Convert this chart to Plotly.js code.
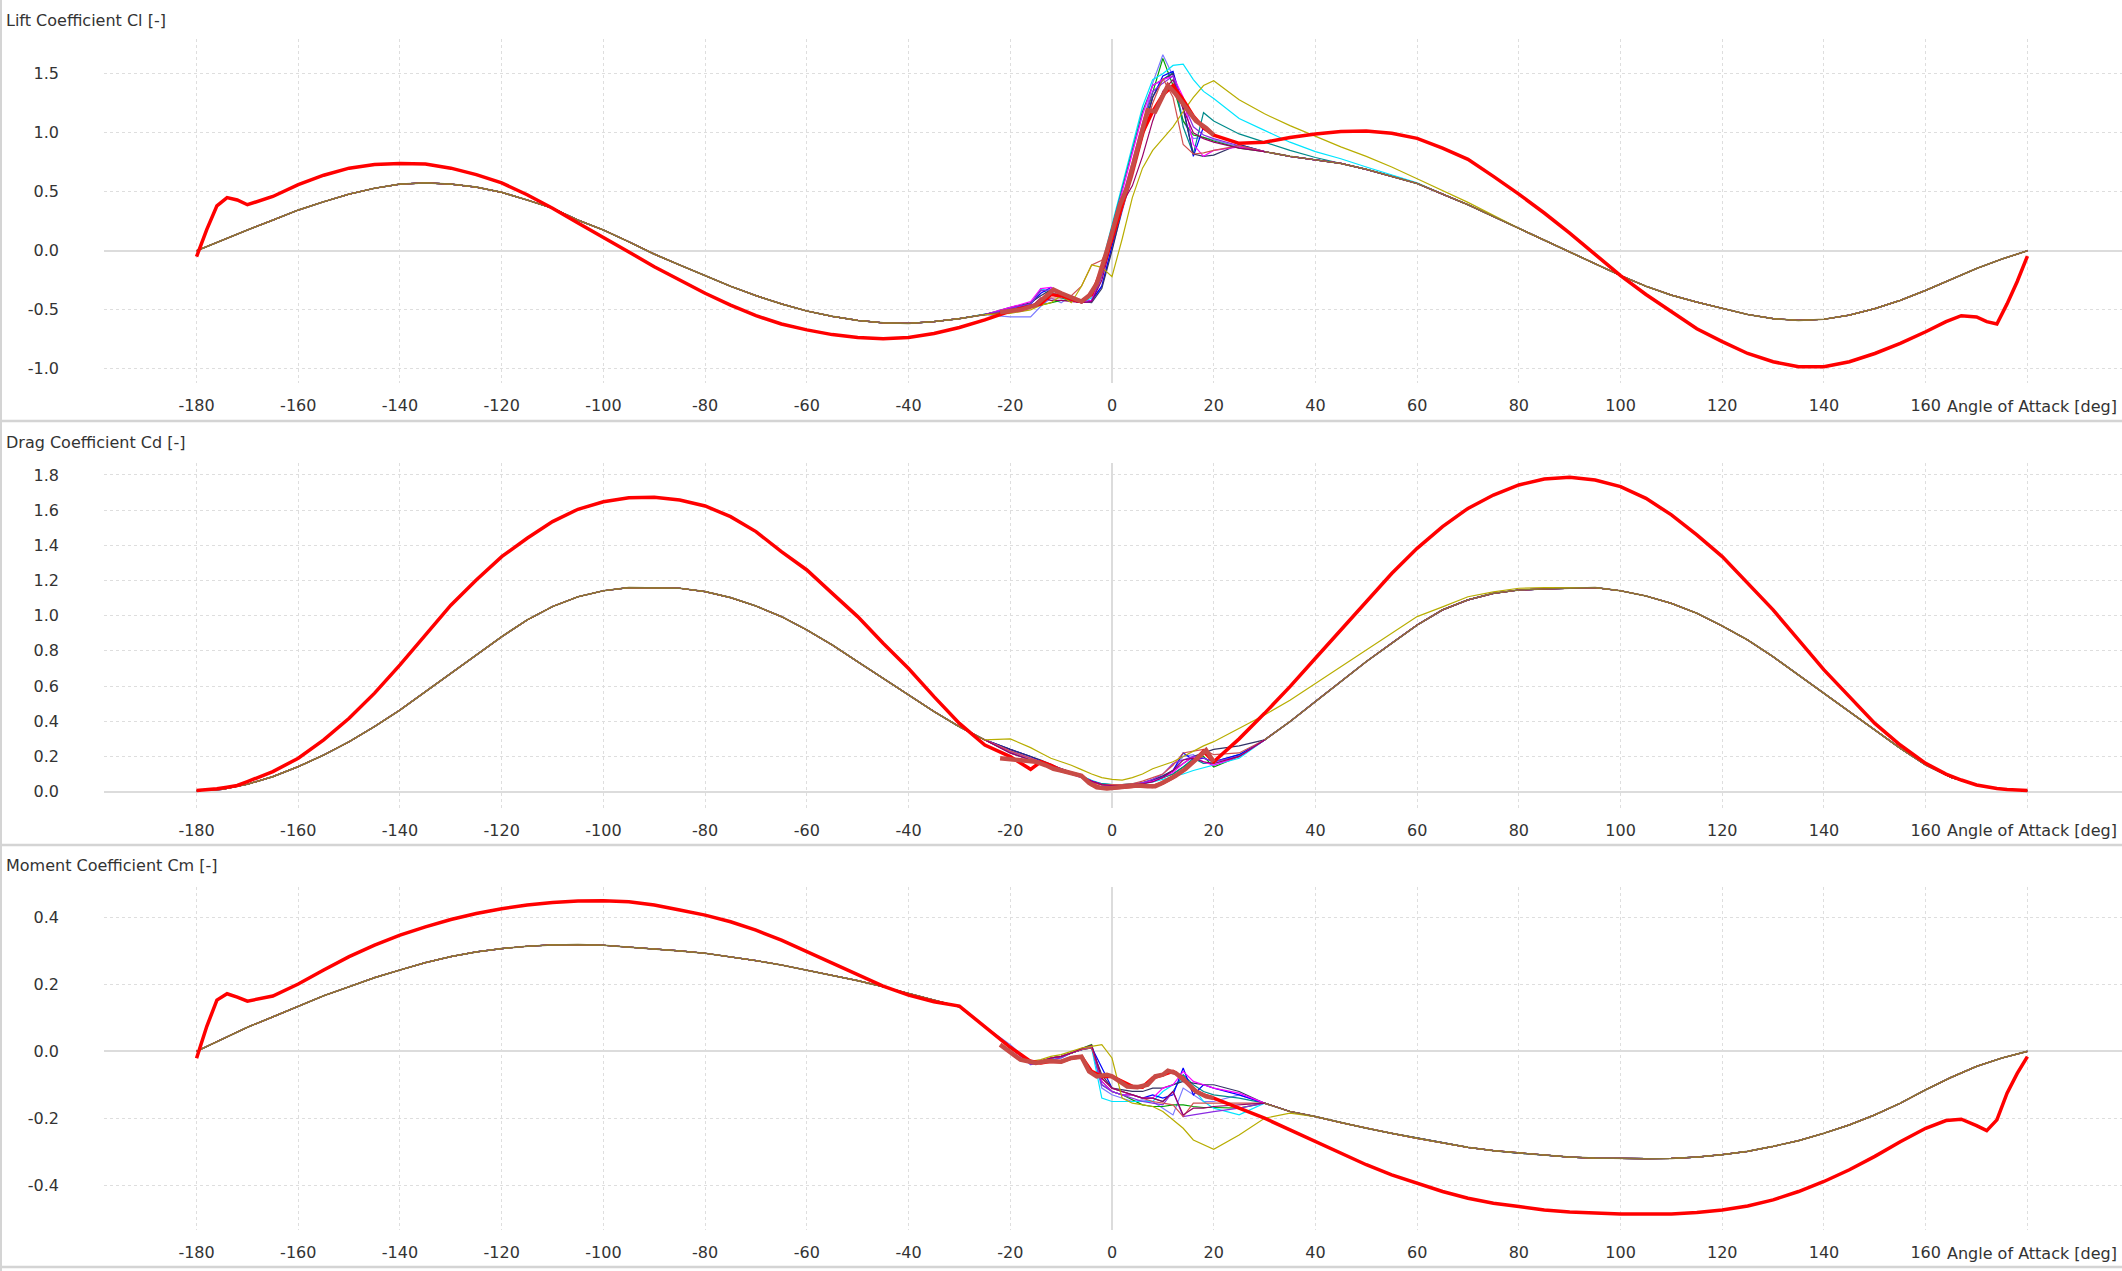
<!DOCTYPE html>
<html>
<head>
<meta charset="utf-8">
<script src="https://cdn.plot.ly/plotly-3.0.1.min.js"></script>
<style>
  html, body { margin: 0; padding: 0; background: #ffffff; }
  #polar-plot { width: 2122px; height: 1271px; }
</style>
</head>
<body>
<div id="polar-plot"></div>
<script>
// angle grids [deg]
const NEG_ANGLES = [-180, -175, -170, -165, -160, -155, -150, -145, -140, -135, -130, -125, -120, -115, -110, -105,
  -100, -95, -90, -85, -80, -75, -70, -65, -60, -55, -50, -45, -40, -35, -30, -25];
const MID_ANGLES = [-20, -16, -14, -12, -10, -8, -6, -4, -2, 0, 2, 4, 6, 8, 10, 12, 14, 16, 18, 20, 25];
const POS_ANGLES = [30, 35, 40, 45, 50, 55, 60, 65, 70, 75, 80, 85, 90, 95, 100, 105, 110, 115, 120, 125, 130,
  135, 140, 145, 150, 155, 160, 165, 170, 175, 180];
const RED_ANGLES = [-180, -178, -176, -174, -172, -170, -165, -160, -155, -150, -145, -140, -135, -130, -125, -120,
  -115, -110, -105, -100, -95, -90, -85, -80, -75, -70, -65, -60, -55, -50, -45, -40, -35, -30, -25, -20, -16, -14,
  -12, -10, -8, -6, -4, -2, 0, 2, 4, 6, 8, 10, 12, 14, 16, 18, 20, 25, 30, 35, 40, 45, 50, 55, 60, 65, 70, 75, 80,
  85, 90, 95, 100, 105, 110, 115, 120, 125, 130, 135, 140, 145, 150, 155, 160, 164, 167, 170, 172, 174, 176, 178, 180];
const THICK_ANGLES = [-22, -18, -15, -13, -11.5, -10, -8, -6, -4.5, -3, -1, 0, 1.5, 3, 5, 7, 8.5, 10, 11, 12.5, 14.5,
  16.5, 18.5, 20];

// shared outer part of the 360 deg polars
const clBaseNeg = [0.0, 0.09, 0.176, 0.26, 0.345, 0.415, 0.48, 0.53, 0.565, 0.575, 0.565, 0.54, 0.495, 0.43, 0.36,
  0.26, 0.176, 0.076, -0.028, -0.12, -0.21, -0.3, -0.38, -0.45, -0.51, -0.555, -0.59, -0.61, -0.615, -0.6, -0.575, -0.54];
const clBasePos = [0.84, 0.8, 0.77, 0.74, 0.69, 0.63, 0.57, 0.48, 0.39, 0.29, 0.19, 0.09, -0.01, -0.11, -0.21,
  -0.3, -0.376, -0.435, -0.49, -0.54, -0.575, -0.59, -0.58, -0.545, -0.49, -0.42, -0.335, -0.24, -0.15, -0.07, 0.0];
const cdBaseNeg = [0.006, 0.013, 0.042, 0.085, 0.142, 0.208, 0.284, 0.37, 0.464, 0.568, 0.673, 0.777, 0.881, 0.976,
  1.052, 1.108, 1.142, 1.16, 1.16, 1.156, 1.137, 1.103, 1.055, 0.995, 0.919, 0.834, 0.739, 0.644, 0.549, 0.455, 0.369, 0.294];
const cdBasePos = [0.294, 0.398, 0.512, 0.625, 0.739, 0.843, 0.947, 1.033, 1.09, 1.127, 1.146, 1.152, 1.156, 1.16,
  1.142, 1.112, 1.07, 1.014, 0.942, 0.862, 0.767, 0.663, 0.559, 0.455, 0.35, 0.246, 0.152, 0.081, 0.038, 0.015, 0.006];
const cmBaseNeg = [0.0, 0.036, 0.072, 0.103, 0.135, 0.166, 0.193, 0.22, 0.243, 0.265, 0.283, 0.297, 0.307, 0.314,
  0.318, 0.319, 0.317, 0.312, 0.305, 0.3, 0.293, 0.283, 0.271, 0.258, 0.243, 0.228, 0.211, 0.193, 0.173, 0.155, 0.133, 0.074];
const cmBasePos = [-0.155, -0.18, -0.195, -0.213, -0.23, -0.245, -0.26, -0.273, -0.287, -0.297, -0.304, -0.311,
  -0.316, -0.319, -0.321, -0.321, -0.32, -0.316, -0.309, -0.299, -0.284, -0.267, -0.245, -0.22, -0.19, -0.155, -0.115,
  -0.078, -0.045, -0.02, 0.0];

// stall region of each airfoil polar (MID_ANGLES)
const clMidSlate = [-0.56, -0.56, -0.47, -0.4, -0.44, -0.38, -0.42, -0.43, -0.3, 0.02, 0.35, 0.65, 1.05, 1.42, 1.66, 1.48, 1.1, 0.95, 0.96, 0.94, 0.88];
const clMidGreen = [-0.52, -0.48, -0.46, -0.44, -0.42, -0.42, -0.44, -0.43, -0.2, 0.12, 0.42, 0.72, 1.05, 1.35, 1.63, 1.4, 1.1, 0.98, 0.96, 0.93, 0.87];
const clMidCyan = [-0.5, -0.46, -0.32, -0.35, -0.38, -0.42, -0.44, -0.4, -0.12, 0.22, 0.55, 0.88, 1.22, 1.45, 1.5, 1.57, 1.58, 1.45, 1.35, 1.29, 1.12];
const clMidTeal = [-0.5, -0.45, -0.33, -0.37, -0.4, -0.42, -0.44, -0.43, -0.15, 0.2, 0.52, 0.85, 1.18, 1.4, 1.45, 1.51, 1.05, 0.82, 1.17, 1.1, 0.99];
const clMidBlue = [-0.49, -0.45, -0.36, -0.31, -0.36, -0.42, -0.44, -0.42, -0.3, 0.05, 0.38, 0.7, 1.0, 1.3, 1.48, 1.52, 1.22, 0.8, 1.05, 0.98, 0.9];
const clMidNavy = [-0.48, -0.44, -0.38, -0.33, -0.35, -0.4, -0.43, -0.44, -0.32, 0.0, 0.35, 0.65, 0.98, 1.3, 1.45, 1.5, 1.2, 0.82, 0.8, 0.81, 0.9];
const clMidMagenta = [-0.48, -0.43, -0.32, -0.31, -0.38, -0.42, -0.44, -0.42, -0.18, 0.18, 0.5, 0.82, 1.15, 1.4, 1.45, 1.48, 1.3, 0.9, 0.8, 0.85, 0.88];
const clMidViolet = [-0.49, -0.45, -0.34, -0.33, -0.37, -0.42, -0.44, -0.43, -0.22, 0.12, 0.45, 0.75, 1.08, 1.35, 1.42, 1.48, 1.25, 1.05, 0.98, 0.95, 0.89];
const clMidRose = [-0.51, -0.47, -0.42, -0.4, -0.4, -0.38, -0.3, -0.12, -0.08, 0.08, 0.35, 0.62, 0.95, 1.25, 1.46, 1.3, 0.9, 0.82, 0.83, 0.85, 0.89];
const clMidPlum = [-0.52, -0.48, -0.4, -0.42, -0.42, -0.43, -0.44, -0.43, -0.25, 0.08, 0.4, 0.55, 0.8, 1.1, 1.35, 1.45, 1.2, 1.0, 0.95, 0.92, 0.87];
const clMidOlive = [-0.53, -0.5, -0.46, -0.44, -0.38, -0.44, -0.3, -0.12, -0.14, -0.22, 0.1, 0.45, 0.7, 0.85, 0.95, 1.05, 1.18, 1.3, 1.4, 1.44, 1.28];

const cdMidSlate = [0.24, 0.2, 0.17, 0.15, 0.13, 0.11, 0.085, 0.06, 0.045, 0.035, 0.035, 0.04, 0.05, 0.07, 0.09, 0.12, 0.2, 0.21, 0.16, 0.16, 0.2];
const cdMidGreen = [0.22, 0.18, 0.16, 0.145, 0.125, 0.105, 0.085, 0.06, 0.04, 0.035, 0.035, 0.04, 0.045, 0.06, 0.08, 0.1, 0.14, 0.18, 0.2, 0.14, 0.2];
const cdMidCyan = [0.23, 0.19, 0.17, 0.15, 0.13, 0.11, 0.09, 0.065, 0.045, 0.04, 0.04, 0.04, 0.045, 0.055, 0.07, 0.085, 0.1, 0.12, 0.135, 0.15, 0.19];
const cdMidTeal = [0.23, 0.19, 0.17, 0.15, 0.13, 0.11, 0.09, 0.06, 0.045, 0.04, 0.04, 0.045, 0.05, 0.065, 0.08, 0.1, 0.14, 0.19, 0.16, 0.17, 0.21];
const cdMidBlue = [0.24, 0.2, 0.175, 0.15, 0.13, 0.105, 0.08, 0.06, 0.04, 0.035, 0.035, 0.04, 0.045, 0.06, 0.085, 0.12, 0.22, 0.18, 0.19, 0.17, 0.21];
const cdMidNavy = [0.24, 0.2, 0.18, 0.155, 0.13, 0.11, 0.085, 0.055, 0.04, 0.035, 0.035, 0.04, 0.05, 0.065, 0.09, 0.12, 0.16, 0.2, 0.22, 0.24, 0.26];
const cdMidMagenta = [0.23, 0.19, 0.17, 0.15, 0.13, 0.105, 0.085, 0.06, 0.04, 0.035, 0.035, 0.04, 0.05, 0.06, 0.08, 0.11, 0.16, 0.2, 0.17, 0.15, 0.2];
const cdMidViolet = [0.22, 0.18, 0.16, 0.14, 0.12, 0.1, 0.08, 0.055, 0.04, 0.035, 0.035, 0.04, 0.05, 0.07, 0.1, 0.16, 0.18, 0.2, 0.19, 0.17, 0.2];
const cdMidRose = [0.23, 0.19, 0.17, 0.15, 0.13, 0.11, 0.09, 0.05, 0.04, 0.04, 0.04, 0.045, 0.06, 0.08, 0.1, 0.15, 0.22, 0.23, 0.24, 0.21, 0.22];
const cdMidPlum = [0.22, 0.18, 0.16, 0.14, 0.125, 0.105, 0.085, 0.06, 0.04, 0.035, 0.035, 0.04, 0.045, 0.055, 0.08, 0.12, 0.18, 0.19, 0.17, 0.16, 0.2];
const cdMidOlive = [0.3, 0.25, 0.22, 0.19, 0.17, 0.15, 0.125, 0.1, 0.08, 0.07, 0.066, 0.08, 0.1, 0.13, 0.15, 0.17, 0.2, 0.23, 0.26, 0.284, 0.36];

const cmMidSlate = [0.02, -0.035, -0.03, -0.02, -0.015, -0.005, 0.005, 0.012, -0.11, -0.13, -0.14, -0.15, -0.145, -0.15, -0.17, -0.19, -0.11, -0.13, -0.15, -0.15, -0.13];
const cmMidGreen = [0.015, -0.035, -0.03, -0.02, -0.015, -0.005, 0.008, 0.02, -0.09, -0.12, -0.13, -0.145, -0.16, -0.165, -0.165, -0.16, -0.16, -0.165, -0.168, -0.168, -0.17];
const cmMidCyan = [0.015, -0.04, -0.035, -0.025, -0.02, -0.005, 0.005, 0.01, -0.14, -0.15, -0.15, -0.152, -0.15, -0.15, -0.12, -0.1, -0.085, -0.11, -0.15, -0.17, -0.19];
const cmMidTeal = [0.015, -0.035, -0.03, -0.02, -0.015, -0.005, 0.005, 0.015, -0.1, -0.12, -0.13, -0.13, -0.14, -0.14, -0.15, -0.12, -0.07, -0.1, -0.12, -0.13, -0.14];
const cmMidBlue = [0.015, -0.035, -0.03, -0.02, -0.015, -0.005, 0.005, 0.012, -0.05, -0.11, -0.12, -0.13, -0.14, -0.13, -0.14, -0.13, -0.05, -0.13, -0.1, -0.11, -0.13];
const cmMidNavy = [0.014, -0.035, -0.03, -0.02, -0.016, -0.005, 0.005, 0.01, -0.07, -0.11, -0.115, -0.12, -0.12, -0.11, -0.11, -0.1, -0.09, -0.095, -0.1, -0.1, -0.12];
const cmMidMagenta = [0.015, -0.035, -0.03, -0.02, -0.015, -0.005, 0.008, 0.015, -0.09, -0.12, -0.13, -0.13, -0.14, -0.14, -0.11, -0.1, -0.06, -0.09, -0.1, -0.11, -0.125];
const cmMidViolet = [0.012, -0.04, -0.035, -0.025, -0.02, -0.005, 0.005, 0.014, -0.1, -0.12, -0.13, -0.14, -0.15, -0.155, -0.16, -0.12, -0.195, -0.19, -0.185, -0.18, -0.17];
const cmMidRose = [0.015, -0.035, -0.03, -0.02, -0.015, -0.005, 0.005, 0.01, -0.08, -0.11, -0.12, -0.13, -0.14, -0.15, -0.155, -0.16, -0.195, -0.155, -0.155, -0.155, -0.155];
const cmMidPlum = [0.015, -0.035, -0.03, -0.02, -0.015, -0.005, 0.008, 0.018, -0.08, -0.11, -0.12, -0.13, -0.14, -0.14, -0.15, -0.12, -0.19, -0.17, -0.17, -0.165, -0.16];
const cmMidOlive = [0.01, -0.03, -0.025, -0.015, -0.01, 0.0, 0.01, 0.015, 0.02, -0.02, -0.14, -0.155, -0.16, -0.165, -0.18, -0.205, -0.23, -0.265, -0.28, -0.293, -0.25];

// where a polar leaves the shared curve after stall (first POS_ANGLES entries)
const clPosCyan = [1.02, 0.92, 0.84, 0.78, 0.71, 0.645, 0.575];
const clPosTeal = [0.92, 0.85, 0.79];
const clPosOlive = [1.16, 1.06, 0.97, 0.88, 0.8, 0.71, 0.61, 0.51, 0.41, 0.3];
const cdPosOlive = [0.436, 0.52, 0.616, 0.71, 0.805, 0.9, 0.995, 1.05, 1.108, 1.135, 1.156, 1.16, 1.16];
const cmPosOlive = [-0.2, -0.185];

// 360 deg extrapolation (thick red)
const clRed = [-0.05, 0.18, 0.38, 0.45, 0.43, 0.39, 0.46, 0.56, 0.64, 0.7, 0.73, 0.74, 0.735, 0.7, 0.645, 0.575, 0.475,
  0.36, 0.235, 0.115, -0.01, -0.135, -0.25, -0.36, -0.46, -0.55, -0.62, -0.67, -0.71, -0.735, -0.745, -0.735, -0.7,
  -0.65, -0.585, -0.51, -0.47, -0.45, -0.37, -0.38, -0.41, -0.43, -0.37, -0.16, 0.1, 0.38, 0.68, 1.0, 1.18, 1.32, 1.4,
  1.28, 1.14, 1.04, 0.98, 0.91, 0.92, 0.96, 0.99, 1.01, 1.015, 0.995, 0.952, 0.87, 0.775, 0.63, 0.48, 0.32, 0.15,
  -0.03, -0.21, -0.37, -0.517, -0.66, -0.77, -0.87, -0.94, -0.983, -0.983, -0.94, -0.87, -0.785, -0.686, -0.6, -0.55,
  -0.56, -0.6, -0.62, -0.45, -0.26, -0.045];
const cdRed = [0.006, 0.01, 0.016, 0.025, 0.035, 0.057, 0.114, 0.19, 0.294, 0.417, 0.56, 0.72, 0.89, 1.06, 1.203, 1.336,
  1.44, 1.535, 1.605, 1.648, 1.671, 1.673, 1.658, 1.624, 1.563, 1.478, 1.364, 1.26, 1.127, 0.995, 0.843, 0.7, 0.54,
  0.388, 0.265, 0.199, 0.127, 0.17, 0.15, 0.12, 0.105, 0.09, 0.04, 0.02, 0.02, 0.025, 0.03, 0.035, 0.03, 0.05, 0.08,
  0.12, 0.17, 0.23, 0.17, 0.3, 0.445, 0.597, 0.758, 0.919, 1.08, 1.24, 1.383, 1.506, 1.61, 1.686, 1.743, 1.777, 1.787,
  1.771, 1.734, 1.667, 1.573, 1.459, 1.336, 1.184, 1.033, 0.862, 0.692, 0.54, 0.388, 0.265, 0.161, 0.1, 0.066, 0.038,
  0.027, 0.018, 0.012, 0.008, 0.006];
const cmRed = [-0.021, 0.074, 0.153, 0.172, 0.162, 0.15, 0.165, 0.201, 0.243, 0.283, 0.317, 0.347, 0.372, 0.394, 0.412,
  0.426, 0.437, 0.445, 0.449, 0.45, 0.447, 0.437, 0.422, 0.407, 0.387, 0.362, 0.332, 0.298, 0.263, 0.228, 0.195, 0.168,
  0.148, 0.135, 0.075, 0.012, -0.03, -0.035, -0.03, -0.031, -0.02, -0.016, -0.06, -0.075, -0.075, -0.09, -0.105,
  -0.107, -0.08, -0.07, -0.06, -0.08, -0.115, -0.13, -0.14, -0.17, -0.2, -0.235, -0.27, -0.304, -0.339, -0.369, -0.394,
  -0.419, -0.439, -0.454, -0.464, -0.474, -0.48, -0.484, -0.486, -0.486, -0.486, -0.482, -0.474, -0.462, -0.444,
  -0.419, -0.389, -0.354, -0.314, -0.27, -0.23, -0.207, -0.203, -0.222, -0.237, -0.205, -0.125, -0.066, -0.016];

// selected airfoil polar (thick indian red)
const clThick = [-0.52, -0.5, -0.46, -0.38, -0.33, -0.36, -0.4, -0.43, -0.38, -0.28, 0.0, 0.15, 0.38, 0.54, 0.85, 1.19,
  1.18, 1.32, 1.4, 1.33, 1.22, 1.1, 1.04, 0.98];
const cdThick = [0.19, 0.18, 0.17, 0.15, 0.13, 0.12, 0.105, 0.09, 0.05, 0.025, 0.018, 0.02, 0.025, 0.03, 0.035, 0.03,
  0.03, 0.05, 0.065, 0.09, 0.13, 0.18, 0.235, 0.17];
const cmThick = [0.02, -0.025, -0.035, -0.03, -0.03, -0.031, -0.02, -0.016, -0.06, -0.075, -0.07, -0.075, -0.09, -0.105,
  -0.107, -0.1, -0.075, -0.07, -0.058, -0.065, -0.09, -0.12, -0.135, -0.14];

const X_TICKS = [-180, -160, -140, -120, -100, -80, -60, -40, -20, 0, 20, 40, 60, 80, 100, 120, 140, 160, 180];
const X_TICK_TEXT = ["-180", "-160", "-140", "-120", "-100", "-80", "-60", "-40", "-20", "0", "20", "40", "60", "80",
  "100", "120", "140", "160", ""];
const CL_TICKS = [-1.0, -0.5, 0.0, 0.5, 1.0, 1.5];
const CL_TICK_TEXT = ["-1.0", "-0.5", "0.0", "0.5", "1.0", "1.5"];
const CD_TICKS = [0.0, 0.2, 0.4, 0.6, 0.8, 1.0, 1.2, 1.4, 1.6, 1.8];
const CD_TICK_TEXT = ["0.0", "0.2", "0.4", "0.6", "0.8", "1.0", "1.2", "1.4", "1.6", "1.8"];
const CM_TICKS = [-0.4, -0.2, 0.0, 0.2, 0.4];
const CM_TICK_TEXT = ["-0.4", "-0.2", "0.0", "0.2", "0.4"];
const PANEL_TITLES = ["Lift Coefficient Cl [-]", "Drag Coefficient Cd [-]", "Moment Coefficient Cm [-]"];
const X_LABEL = "Angle of Attack [deg]";

const THIN_POLARS = [
  { color: "#7b7bff", cl: clMidSlate, cd: cdMidSlate, cm: cmMidSlate },
  { color: "#00a000", cl: clMidGreen, cd: cdMidGreen, cm: cmMidGreen },
  { color: "#00e5ff", cl: clMidCyan, cd: cdMidCyan, cm: cmMidCyan, clPos: clPosCyan },
  { color: "#008b8b", cl: clMidTeal, cd: cdMidTeal, cm: cmMidTeal, clPos: clPosTeal },
  { color: "#0000ff", cl: clMidBlue, cd: cdMidBlue, cm: cmMidBlue },
  { color: "#333366", cl: clMidNavy, cd: cdMidNavy, cm: cmMidNavy },
  { color: "#ff00ff", cl: clMidMagenta, cd: cdMidMagenta, cm: cmMidMagenta },
  { color: "#8a2be2", cl: clMidViolet, cd: cdMidViolet, cm: cmMidViolet },
  { color: "#d05050", cl: clMidRose, cd: cdMidRose, cm: cmMidRose },
  { color: "#990066", cl: clMidPlum, cd: cdMidPlum, cm: cmMidPlum },
  { color: "#b8ad00", cl: clMidOlive, cd: cdMidOlive, cm: cmMidOlive, clPos: clPosOlive, cdPos: cdPosOlive, cmPos: cmPosOlive }
];

const FONT = "DejaVu Sans, Verdana, sans-serif";
const TEXT_COLOR = "#333333";
const W = 2122;
const H = 1271;

const withHead = (head, base) => (head ? head.concat(base.slice(head.length)) : base);

const line = (x, y, color, width, axis) => ({
  x, y,
  type: "scatter",
  mode: "lines",
  line: { color, width },
  xaxis: "x" + axis,
  yaxis: "y" + axis,
  connectgaps: false,
  hoverinfo: "skip",
  showlegend: false
});

const coefs = [
  { key: "cl", neg: clBaseNeg, pos: clBasePos, red: clRed, thick: clThick, axis: "" },
  { key: "cd", neg: cdBaseNeg, pos: cdBasePos, red: cdRed, thick: cdThick, axis: "2" },
  { key: "cm", neg: cmBaseNeg, pos: cmBasePos, red: cmRed, thick: cmThick, axis: "3" }
];

const data = [];
const thinX = NEG_ANGLES.concat(MID_ANGLES, POS_ANGLES);
coefs.forEach((c) => {
  THIN_POLARS.forEach((p) => {
    const y = c.neg.concat(p[c.key], withHead(p[c.key + "Pos"], c.pos));
    data.push(line(thinX, y, p.color, 1.2, c.axis));
  });
  data.push(line(NEG_ANGLES.concat([null], POS_ANGLES), c.neg.concat([null], c.pos), "#8c7438", 1.5, c.axis));
  data.push(line(RED_ANGLES, c.red, "#ff0000", 3.5, c.axis));
  data.push(line(THICK_ANGLES, c.thick, "#c84b46", 4.5, c.axis));
});

// panel geometry in pixels (top, bottom of plot area)
const panels = [
  { top: 39, bottom: 383, range: [-1.12, 1.794], ticks: CL_TICKS, text: CL_TICK_TEXT, titleY: 20, labelY: 407 },
  { top: 463, bottom: 808, range: [-0.093, 1.868], ticks: CD_TICKS, text: CD_TICK_TEXT, titleY: 442, labelY: 830 },
  { top: 887, bottom: 1230, range: [-0.534, 0.491], ticks: CM_TICKS, text: CM_TICK_TEXT, titleY: 865, labelY: 1253 }
];
const PLOT_LEFT = 104;

const layout = {
  width: W,
  height: H,
  margin: { t: 0, r: 0, b: 0, l: 0 },
  paper_bgcolor: "#ffffff",
  plot_bgcolor: "#ffffff",
  showlegend: false,
  hovermode: false,
  font: { family: FONT, size: 16, color: TEXT_COLOR },
  annotations: [],
  shapes: []
};

panels.forEach((p, i) => {
  const sfx = i === 0 ? "" : String(i + 1);
  layout["xaxis" + sfx] = {
    domain: [PLOT_LEFT / W, 1],
    range: [-198.2, 198.6],
    anchor: "y" + sfx,
    tickmode: "array",
    tickvals: X_TICKS,
    ticktext: X_TICK_TEXT,
    ticks: "",
    ticklabelstandoff: 11,
    tickfont: { family: FONT, size: 16, color: TEXT_COLOR },
    showgrid: true,
    gridcolor: "#dedede",
    griddash: "dot",
    gridwidth: 1,
    zeroline: true,
    zerolinecolor: "#dcdcdc",
    zerolinewidth: 2,
    showline: false,
    fixedrange: true
  };
  layout["yaxis" + sfx] = {
    domain: [1 - p.bottom / H, 1 - p.top / H],
    range: p.range,
    anchor: "x" + sfx,
    tickmode: "array",
    tickvals: p.ticks,
    ticktext: p.text,
    ticks: "",
    ticklabelstandoff: 44,
    tickfont: { family: FONT, size: 16, color: TEXT_COLOR },
    showgrid: true,
    gridcolor: "#dedede",
    griddash: "dot",
    gridwidth: 1,
    zeroline: true,
    zerolinecolor: "#dcdcdc",
    zerolinewidth: 2,
    showline: false,
    fixedrange: true
  };
  layout.annotations.push({
    xref: "paper", yref: "paper",
    x: 4 / W, y: 1 - p.titleY / H,
    xanchor: "left", yanchor: "middle",
    text: PANEL_TITLES[i],
    showarrow: false,
    font: { family: FONT, size: 16, color: TEXT_COLOR }
  });
  layout.annotations.push({
    xref: "paper", yref: "paper",
    x: 2119 / W, y: 1 - p.labelY / H,
    xanchor: "right", yanchor: "middle",
    text: X_LABEL,
    showarrow: false,
    bgcolor: "#ffffff",
    font: { family: FONT, size: 16, color: TEXT_COLOR }
  });
});

// panel frames
[421, 845, 1267].forEach((py) => {
  layout.shapes.push({
    type: "line", xref: "paper", yref: "paper",
    x0: 0, x1: 1, y0: 1 - py / H, y1: 1 - py / H,
    line: { color: "#d4d4d4", width: 2.5 }
  });
});
layout.shapes.push({
  type: "line", xref: "paper", yref: "paper",
  x0: 1 / W, x1: 1 / W, y0: 0, y1: 1,
  line: { color: "#d4d4d4", width: 2 }
});

Plotly.newPlot("polar-plot", data, layout, { displayModeBar: false, staticPlot: true, responsive: false });
</script>
</body>
</html>
